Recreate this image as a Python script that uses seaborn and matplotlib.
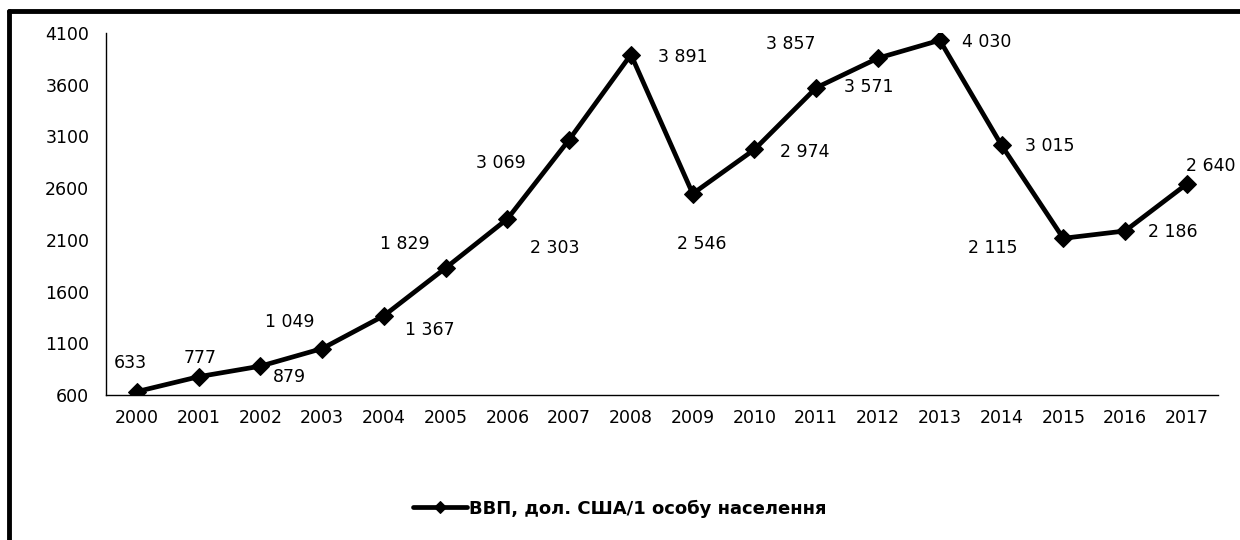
import matplotlib
matplotlib.use("Agg")
import matplotlib.pyplot as plt
from matplotlib.lines import Line2D
import seaborn as sns
import pandas as pd

# data
years = [2000, 2001, 2002, 2003, 2004, 2005, 2006, 2007, 2008,
         2009, 2010, 2011, 2012, 2013, 2014, 2015, 2016, 2017]
gdp = [633, 777, 879, 1049, 1367, 1829, 2303, 3069, 3891,
       2546, 2974, 3571, 3857, 4030, 3015, 2115, 2186, 2640]
series_name = "ВВП, дол. США/1 особу населення"
y_ticks = [600, 1100, 1600, 2100, 2600, 3100, 3600, 4100]

# where each value label sits relative to its point (pixels)
label_offsets = [(-7, 29), (1, 19), (29, -11), (-32, 27), (46, -14), (-41, 24),
                 (47, -29), (-68, -23), (52, -2), (9, -50), (50, -3), (53, 1),
                 (-87, 14), (47, -2), (48, -1), (-71, -10), (48, -1), (24, 18)]

df = pd.DataFrame({"year": years, "value": gdp, "series": series_name})

sns.set_style("white")
plt.rcParams["font.family"] = ["DejaVu Sans"]
plt.rcParams["text.color"] = "black"
plt.rcParams["xtick.color"] = "black"
plt.rcParams["ytick.color"] = "black"

fig = plt.figure(figsize=(12.4, 5.4), dpi=100)
ax = fig.add_axes([0.0855, 0.2685, 0.8965, 0.6704])

sns.lineplot(data=df, x="year", y="value", hue="series", palette=["black"],
             marker="D", markersize=9, linewidth=3.4, markeredgecolor="black",
             ax=ax)

for yr, v, (dx, dy) in zip(years, gdp, label_offsets):
    ax.annotate(f"{v:,}".replace(",", " "), (yr, v), xytext=(dx, dy),
                textcoords="offset pixels", ha="center", va="center",
                fontsize=12.5, color="black")

ax.set_xlim(years[0] - 0.5, years[-1] + 0.5)
ax.set_ylim(y_ticks[0], y_ticks[-1])
ax.set_yticks(y_ticks)
ax.set_xticks(years)
ax.set_xticklabels([str(y) for y in years])
ax.set_xticks([y - 0.5 for y in years] + [years[-1] + 0.5], minor=True)
ax.tick_params(axis="x", which="major", length=0, pad=10, labelsize=12.5)
ax.tick_params(axis="x", which="minor", length=6, width=1, color="black", direction="out")
ax.tick_params(axis="y", length=5, width=1, color="black", direction="out",
               pad=7, labelsize=12.5)
ax.set_xlabel("")
ax.set_ylabel("")

sns.despine(ax=ax)
for s in ["left", "bottom"]:
    ax.spines[s].set_color("black")
    ax.spines[s].set_linewidth(1)

leg = ax.legend(loc="center", bbox_to_anchor=(0.5, 0.058), bbox_transform=fig.transFigure,
                frameon=False, handlelength=3.0, handletextpad=0.1,
                prop={"weight": "bold", "size": 13})
for h in leg.legend_handles:
    h.set_markersize(6)
    h.set_linewidth(3.4)
for t in leg.get_texts():
    t.set_color("black")

# thick outer frame on the left and top
fig.add_artist(Line2D([9 / 1240, 9 / 1240], [0, 1 - 11 / 540], color="black",
                      linewidth=3.5, transform=fig.transFigure))
fig.add_artist(Line2D([9 / 1240, 1], [1 - 11 / 540, 1 - 11 / 540], color="black",
                      linewidth=3.5, transform=fig.transFigure))

fig.savefig("out.png", dpi=100, facecolor="white")
